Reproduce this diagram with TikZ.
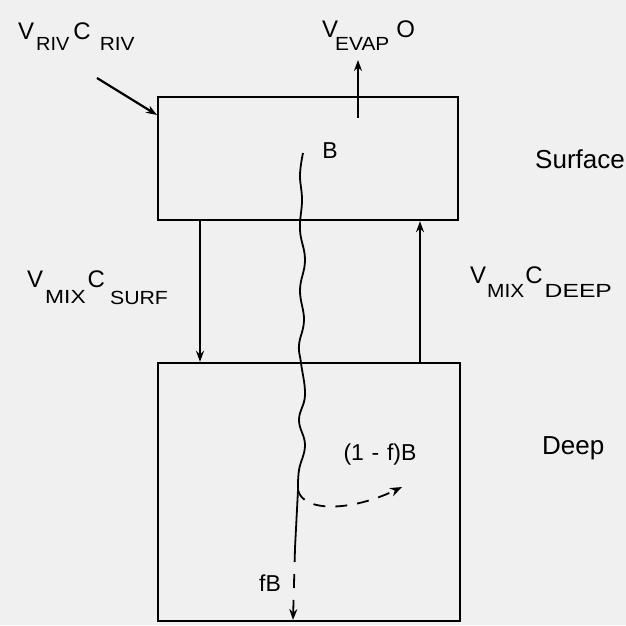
\documentclass[tikz,border=0pt]{standalone}
\usepackage{fontspec}
\setmainfont{Liberation Sans}
\usepackage{graphicx}
\usetikzlibrary{arrows.meta}
\newcommand\mn[1]{{\fontsize{24}{24}\selectfont #1}}
\newcommand\lowtxt[3]{\raisebox{-#1pt}{\scalebox{#2}[1]{\fontsize{19}{19}\selectfont #3}}}
\begin{document}
\begin{tikzpicture}[x=1pt,y=-1pt,
  box/.style={draw, line width=2.4pt, inner sep=0pt},
  arr/.style={line width=1.6pt, -{Stealth[length=11pt,width=8pt]}},
  flux/.style={line width=1.8pt},
  lbl/.style={inner sep=0pt, anchor=base west},
  big/.style={inner sep=0pt, font=\fontsize{26}{26}\selectfont}]
\fill[black!6] (0,0) rectangle (626,625);
\useasboundingbox (0,0) rectangle (626,625);
% boxes
\node[box, minimum width=300pt, minimum height=123pt] (surf) at (308,158.5) {};
\node[box, minimum width=302pt, minimum height=258pt] (deep) at (309,492) {};
% labels
\node[big, anchor=west] (lsurf) at (535,159) {Surface};
\node[big, anchor=west] (ldeep) at (542,448) {Deep};
\node[lbl] (lriv) at (18,39) {\mn{V}\hspace{2pt}\lowtxt{11}{1.05}{RIV}\hspace{4pt}\mn{C}\hspace{9pt}\lowtxt{11}{1.1}{RIV}};
\node[lbl] (levap) at (322,37) {\mn{V}\hspace{-3pt}\lowtxt{13}{1.1}{EVAP}\hspace{7pt}\mn{O}};
\node[lbl] (lmixs) at (27,287) {\mn{V}\hspace{2pt}\lowtxt{16}{1.2}{MIX}\hspace{2pt}\mn{C}\hspace{5pt}\lowtxt{17}{1.12}{SURF}};
\node[lbl] (lmixd) at (470,283) {\mn{V}\hspace{1pt}\lowtxt{14}{1.1}{MIX}\hspace{1pt}\mn{C}\hspace{2pt}\lowtxt{14}{1.3}{DEEP}};
\node[inner sep=0pt, font=\fontsize{23}{23}\selectfont] (lB) at (330,151) {B};
\node[inner sep=0pt, font=\fontsize{23}{23}\selectfont] (l1f) at (380,455) {(1\,\,-\,\,f)B};
\node[inner sep=0pt, font=\fontsize{23}{23}\selectfont] (lfB) at (270,583) {fB};
% coordinates
\coordinate (rivs) at (97,78);
\coordinate (rive) at (157,115);
\coordinate (evs) at (358,118);
\coordinate (eve) at (358,60);
\coordinate (mixL) at (200,0);
\coordinate (mixR) at (420,0);
\coordinate (w0) at (303,153);
\coordinate (w1) at (298,490);
\coordinate (w2) at (295,548);
\coordinate (w3) at (293,620);
\coordinate (cend) at (402,487);
% arrows
\draw[arr, line width=2.2pt] (rivs) -- (rive);
\draw[arr] (evs) -- (eve);
\draw[arr] (surf.south -| mixL) -- (deep.north -| mixL);
\draw[arr] (deep.north -| mixR) -- (surf.south -| mixR);
% flux of B
\draw[flux, line join=round] plot[smooth, tension=0.7] coordinates {(w0) (300,175) (302,200) (300,230) (305,260) (300,290) (304,320) (299,345) (301,363) (305,395) (299,420) (305,445) (299,470) (w1)};
\draw[flux] (w1) -- (w2);
\draw[flux, dash pattern=on 14pt off 12pt, -{Stealth[length=11pt,width=8pt]}] (w2) -- (w3);
\draw[flux, dash pattern=on 12pt off 10pt, -{Stealth[length=12pt,width=9pt]}] (w1) .. controls (303,512) and (350,512) .. (cend);
\end{tikzpicture}
\end{document}
